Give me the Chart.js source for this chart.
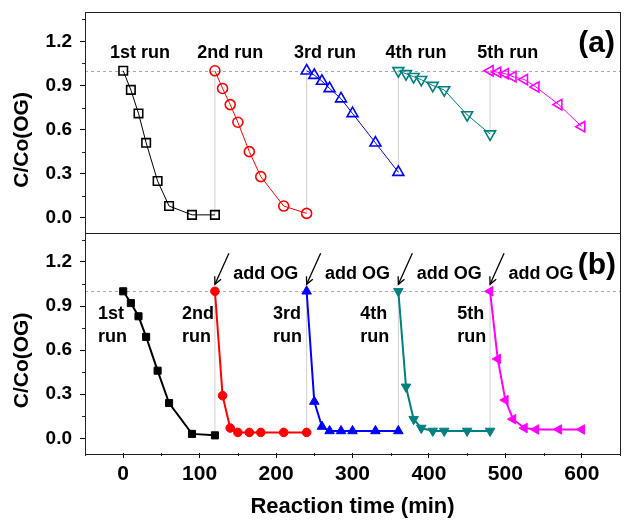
<!DOCTYPE html>
<html><head><meta charset="utf-8">
<script src="https://cdn.jsdelivr.net/npm/chart.js@4.4.0/dist/chart.umd.min.js"></script>
<style>html,body{margin:0;padding:0;background:#fff}canvas{display:block}</style>
</head><body>
<canvas id="c" width="632" height="531"></canvas>
<script>
// ---------------- data ----------------
const runNames = ['1st run', '2nd run', '3rd run', '4th run', '5th run'];
const runNamesB = [['1st', 'run'], ['2nd', 'run'], ['3rd', 'run'], ['4th', 'run'], ['5th', 'run']];
const time1 = [0, 10, 20, 30, 45, 60, 90, 120];
const time2 = [120, 130, 140, 150, 165, 180, 210, 240];
const time3 = [240, 250, 260, 270, 285, 300, 330, 360];
const time4 = [360, 370, 380, 390, 405, 420, 450, 480];
const time5 = [480, 490, 500, 510, 525, 540, 570, 600];
// panel (a)
const a1 = [1.00, 0.87, 0.71, 0.51, 0.25, 0.08, 0.02, 0.02];
const a2 = [1.00, 0.88, 0.77, 0.65, 0.45, 0.28, 0.08, 0.03];
const a3 = [1.00, 0.97, 0.93, 0.88, 0.81, 0.71, 0.51, 0.31];
const a4 = [1.00, 0.98, 0.96, 0.94, 0.90, 0.87, 0.70, 0.57];
const a5 = [1.00, 0.99, 0.98, 0.96, 0.94, 0.89, 0.77, 0.62];
// panel (b)
const b1 = [1.00, 0.92, 0.83, 0.69, 0.46, 0.24, 0.03, 0.02];
const b2 = [1.00, 0.29, 0.07, 0.04, 0.04, 0.04, 0.04, 0.04];
const b3 = [1.00, 0.25, 0.08, 0.05, 0.05, 0.05, 0.05, 0.05];
const b4 = [1.00, 0.35, 0.13, 0.07, 0.05, 0.05, 0.05, 0.05];
const b5 = [1.00, 0.54, 0.26, 0.13, 0.07, 0.06, 0.06, 0.06];
// ticks and texts
const xTicks = [0, 100, 200, 300, 400, 500, 600];
const xMinor = [-50, 50, 150, 250, 350, 450, 550, 650];
const yTicks = [0.0, 0.3, 0.6, 0.9, 1.2];
const yMinor = [0.15, 0.45, 0.75, 1.05, 1.35];
const xTitle = 'Reaction time (min)';
const yTitle = 'C/Co(OG)';
const panelTags = ['(a)', '(b)'];
const addText = 'add OG';
const refLevel = 1.0;

// ---------------- styling ----------------
const FONT = "'Liberation Sans', Arial, Helvetica, sans-serif";
const times = [time1, time2, time3, time4, time5];
const seriesA = [a1, a2, a3, a4, a5];
const seriesB = [b1, b2, b3, b4, b5];
const colors = ['#000000', '#ff0000', '#0000ff', '#008080', '#ff00ff'];
const shapes = [
  {s: 'rect', r: 0, ra: 6, rb: 5},
  {s: 'circle', r: 0, ra: 5, rb: 4.3},
  {s: 'triangle', r: 0, ra: 6.3, rb: 5.5},
  {s: 'triangle', r: 180, ra: 6.3, rb: 5.5},
  {s: 'triangle', r: 270, ra: 6, rb: 5.5}
];

const datasets = [];
function addPanel(series, axis, filled) {
  series.forEach((vals, i) => {
    const sh = shapes[i];
    datasets.push({
      label: runNames[i], yAxisID: axis, showLine: true, order: 0,
      data: vals.map((v, k) => ({x: times[i][k], y: v})),
      borderColor: colors[i], borderWidth: filled ? 2 : 1,
      pointStyle: sh.s, pointRotation: sh.r,
      pointRadius: filled ? sh.rb : sh.ra,
      pointBorderWidth: filled ? 1 : 1.6,
      pointBorderColor: colors[i],
      pointBackgroundColor: filled ? colors[i] : 'rgba(0,0,0,0)',
      tension: 0
    });
  });
  const pts = [];
  for (let i = 1; i < series.length; i++) {
    const tp = times[i - 1], sp = series[i - 1];
    pts.push({x: tp[tp.length - 1], y: sp[sp.length - 1]}, {x: times[i][0], y: series[i][0]}, {x: times[i][0], y: null});
  }
  datasets.push({label: 'link', yAxisID: axis, showLine: true, order: 1, data: pts,
    borderColor: '#d0d0d0', borderWidth: 1, pointRadius: 0, spanGaps: false});
}
addPanel(seriesA, 'yA', false);
addPanel(seriesB, 'yB', true);

function yAxis() {
  return {
    type: 'linear', position: 'left', stack: 'panels', stackWeight: 1,
    min: -0.1, max: 1.4,
    afterBuildTicks: s => { s.ticks = yTicks.map(v => ({value: v})); },
    afterFit: s => { s.width = 85; s.paddingTop = 0; s.paddingBottom = 0; },
    ticks: {color: '#000', padding: 8, font: {family: FONT, size: 19, weight: 'bold', lineHeight: 1},
      callback: v => Number(v).toFixed(1)},
    grid: {drawOnChartArea: false, drawTicks: true, tickLength: 5, color: '#000', tickColor: '#000'},
    border: {display: false}
  };
}

const extras = {
  id: 'extras',
  beforeDatasetsDraw(chart) {
    const {ctx, chartArea: ca} = chart;
    ['yA', 'yB'].forEach(id => {
      const s = chart.scales[id];
      const y = Math.round(s.getPixelForValue(refLevel)) + 0.5;
      ctx.save();
      ctx.strokeStyle = '#a8a8a8'; ctx.lineWidth = 1; ctx.setLineDash([3, 3]);
      ctx.beginPath(); ctx.moveTo(ca.left, y); ctx.lineTo(ca.right, y); ctx.stroke();
      ctx.restore();
    });
  },
  afterDraw(chart) {
    const {ctx, chartArea: ca} = chart;
    const xs = chart.scales.x;
    ctx.save();
    // frames
    ctx.strokeStyle = '#222'; ctx.lineWidth = 1;
    ['yA', 'yB'].forEach(id => {
      const s = chart.scales[id];
      ctx.strokeRect(Math.round(ca.left) + 0.5, Math.round(s.top) + 0.5,
        Math.round(ca.right - ca.left), Math.round(s.bottom - s.top));
      // minor y ticks
      ctx.beginPath();
      yMinor.forEach(v => {
        const y = Math.round(s.getPixelForValue(v)) + 0.5;
        ctx.moveTo(ca.left - 3, y); ctx.lineTo(ca.left, y);
      });
      ctx.stroke();
    });
    // minor x ticks
    ctx.beginPath();
    xMinor.forEach(v => {
      const x = Math.round(xs.getPixelForValue(v)) + 0.5;
      ctx.moveTo(x, ca.bottom); ctx.lineTo(x, ca.bottom + 3);
    });
    ctx.stroke();

    const yA = chart.scales.yA, yB = chart.scales.yB;
    ctx.fillStyle = '#000';
    // panel (a) run labels
    ctx.font = `bold 18px ${FONT}`;
    ctx.textAlign = 'center'; ctx.textBaseline = 'alphabetic';
    const labelXA = [22, 140, 264, 383, 503];
    runNames.forEach((t, i) => ctx.fillText(t, xs.getPixelForValue(labelXA[i]), yA.getPixelForValue(1.09)));
    // panel (b) run labels (two lines)
    ctx.textAlign = 'left';
    const labelXB = [-33, 77, 196, 310, 437];
    runNamesB.forEach((lines, i) => {
      const x = xs.getPixelForValue(labelXB[i]);
      const y0 = yB.getPixelForValue(0.81);
      lines.forEach((ln, k) => ctx.fillText(ln, x, y0 + k * 23));
    });
    // add OG labels and arrows
    for (let i = 1; i < 5; i++) {
      const meta = chart.getDatasetMeta(6 + i);
      const p = meta.data[0];
      ctx.fillText(addText, xs.getPixelForValue(times[i][0] + 24), yB.getPixelForValue(1.081));
      const tipX = p.x, tipY = p.y - 7;
      const tailX = p.x + 14, tailY = p.y - 38;
      ctx.strokeStyle = '#000'; ctx.lineWidth = 1.3;
      ctx.beginPath(); ctx.moveTo(tailX, tailY); ctx.lineTo(tipX, tipY); ctx.stroke();
      const ang = Math.atan2(tipY - tailY, tipX - tailX);
      const hl = 8, ha = 0.45;
      ctx.beginPath();
      ctx.moveTo(tipX - hl * Math.cos(ang - ha), tipY - hl * Math.sin(ang - ha));
      ctx.lineTo(tipX, tipY);
      ctx.lineTo(tipX - hl * Math.cos(ang + ha), tipY - hl * Math.sin(ang + ha));
      ctx.stroke();
    }
    // panel tags
    ctx.font = `bold 30px ${FONT}`;
    ctx.textAlign = 'right';
    ctx.fillText(panelTags[0], ca.right - 5, yA.getPixelForValue(1.13));
    ctx.fillText(panelTags[1], ca.right - 4, yB.getPixelForValue(1.117));
    // y titles
    ctx.font = `bold 21px ${FONT}`;
    ctx.textAlign = 'center'; ctx.textBaseline = 'middle';
    [yA, yB].forEach(s => {
      ctx.save();
      ctx.translate(22, s.getPixelForValue(0.53));
      ctx.rotate(-Math.PI / 2);
      ctx.fillText(yTitle, 0, 0);
      ctx.restore();
    });
    ctx.restore();
  }
};

new Chart(document.getElementById('c'), {
  type: 'scatter',
  data: {datasets},
  options: {
    responsive: false, animation: false, devicePixelRatio: 1,
    layout: {padding: {left: 0, top: 12, right: 12, bottom: 0}},
    plugins: {legend: {display: false}, tooltip: {enabled: false}},
    scales: {
      x: {
        type: 'linear', position: 'bottom', min: -50, max: 650,
        afterBuildTicks: s => { s.ticks = xTicks.map(v => ({value: v})); },
        afterFit: s => { s.height = 78; },
        ticks: {color: '#000', padding: 4, maxRotation: 0, font: {family: FONT, size: 21, weight: 'bold'},
          callback: v => String(v)},
        grid: {drawOnChartArea: false, drawTicks: true, tickLength: 5, color: '#000', tickColor: '#000'},
        border: {display: false},
        title: {display: true, text: xTitle, color: '#000', font: {family: FONT, size: 22, weight: 'bold'},
          padding: {top: 0, bottom: 11}}
      },
      yB: yAxis(),
      yA: yAxis()
    }
  },
  plugins: [extras]
});
</script>
</body></html>
